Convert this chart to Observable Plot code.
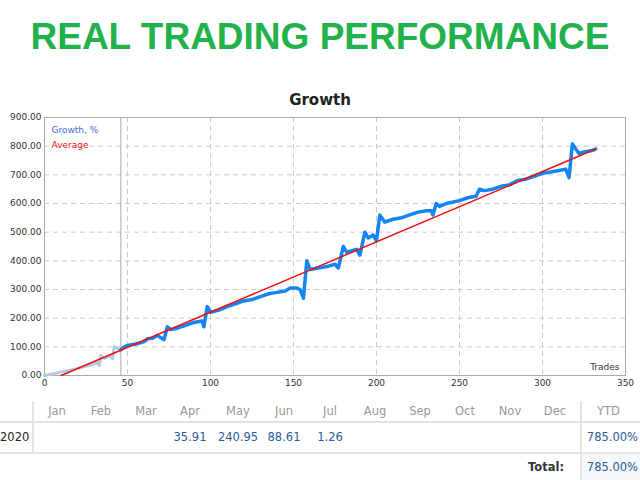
<!DOCTYPE html>
<html><head><meta charset="utf-8">
<script src="https://cdn.jsdelivr.net/npm/d3@7"></script>
<script src="https://cdn.jsdelivr.net/npm/@observablehq/plot@0.6"></script>
<style>
body{margin:0;width:640px;height:480px;position:relative;background:#fff;font-family:"DejaVu Sans",sans-serif;overflow:hidden}
.abs{position:absolute}
#title{top:16px;left:0;width:640px;text-align:center;color:#22b24c;font:bold 37px "Liberation Sans",Arial,sans-serif}
#sub{top:91px;left:0;width:640px;text-align:center;font:bold 15px "DejaVu Sans";color:#222}
#chart{top:110px;left:0}
.c{font-size:11.5px;text-align:center;width:44px}
.h{color:#999}
.v{color:#2a5d9a}
.hl{height:2px;background:#e3e3e3;left:0;width:640px}
.vl{width:2px;background:#e3e3e3}
</style></head><body>
<div id="title" class="abs">REAL TRADING PERFORMANCE</div>
<div id="sub" class="abs">Growth</div>
<div id="chart" class="abs"></div>
<div id="table"></div>
<script>
const early = [[0,0],[5,5],[10,12],[15,18],[20,25],[25,32],[30,40],[32,45],[33,35],[34,70],[36,60],[38,65],[40,68],[41,58],[42,100],[44,95],[46,90]];
const growth = [[46,90],[48,100],[50,105],[55,110],[60,118],[62,128],[65,130],[68,140],[72,125],[74,170],[76,160],[80,165],[85,175],[90,185],[95,190],[96,170],[98,240],[100,220],[105,228],[110,240],[115,250],[120,260],[125,265],[130,275],[135,285],[140,290],[145,295],[148,305],[152,305],[154,300],[156,270],[158,400],[160,370],[165,375],[170,380],[175,388],[177,375],[180,450],[182,430],[188,440],[190,420],[193,500],[195,480],[198,490],[200,470],[202,560],[205,535],[210,545],[215,550],[220,560],[225,570],[230,575],[233,575],[234,560],[236,600],[238,590],[242,600],[250,610],[255,620],[260,625],[262,650],[265,645],[270,650],[275,660],[280,665],[285,680],[290,685],[295,695],[300,705],[305,710],[310,715],[314,720],[316,690],[318,808],[320,790],[322,775],[325,780],[330,785],[332,790]];
const average = [[10,0],[332,790]];
const xTicks = [0,50,100,150,200,250,300,350];
const yTicks = [0,100,200,300,400,500,600,700,800,900];
const months = ["Jan","Feb","Mar","Apr","May","Jun","Jul","Aug","Sep","Oct","Nov","Dec"];
const monthValues = ["","","","35.91","240.95","88.61","1.26","","","","",""];
const ytd = "785.00%";
const total = "785.00%";
const year = "2020";

const plot = Plot.plot({
  width:640,height:285,
  marginTop:7,marginBottom:20,marginLeft:44,marginRight:15,
  style:{fontFamily:"DejaVu Sans",fontSize:"9px",color:"#333"},
  x:{domain:[0,350],ticks:xTicks,tickSize:0,tickPadding:4,label:null},
  y:{domain:[0,900],ticks:yTicks,tickSize:0,tickPadding:4,label:null,tickFormat:d=>d.toFixed(2)},
  marks:[
    Plot.gridX(xTicks.slice(1,-1),{stroke:"#ccc",strokeOpacity:1,strokeDasharray:"5,4"}),
    Plot.gridY(yTicks.slice(1,-1),{stroke:"#ccc",strokeOpacity:1,strokeDasharray:"5,4"}),
    Plot.ruleX([46],{stroke:"#aaa"}),
    Plot.frame({stroke:"#aaa"}),
    Plot.line(early,{x:d=>d[0],y:d=>d[1],stroke:"#b4cbe4",strokeWidth:3}),
    Plot.line(growth,{x:d=>d[0],y:d=>d[1],stroke:"#1485f5",strokeWidth:3.5}),
    Plot.line(average,{x:d=>d[0],y:d=>d[1],stroke:"#ee1111",strokeWidth:1.5}),
    Plot.text(["Growth, %"],{frameAnchor:"top-left",dx:7,dy:9,fill:"#3a6fd8",fontSize:9,textAnchor:"start"}),
    Plot.text(["Average"],{frameAnchor:"top-left",dx:7,dy:24,fill:"#ee1111",fontSize:9,textAnchor:"start"}),
    Plot.text(["Trades"],{frameAnchor:"bottom-right",dx:-6,dy:-6,fill:"#333",fontSize:9,textAnchor:"end"}),
    Plot.axisX(xTicks,{tickSize:0,tickPadding:4}),
    Plot.axisY(yTicks,{tickSize:0,tickPadding:3,tickFormat:d=>d.toFixed(2)})
  ]
});
document.getElementById("chart").appendChild(plot);

const t = document.getElementById("table");
const colX = [57,101,146,190,238,284,330,375,420,465,510,555];
let html = '<div class="abs hl" style="top:421px"></div><div class="abs hl" style="top:452px"></div>';
html += '<div class="abs vl" style="left:32px;top:401px;height:51px"></div>';
html += '<div class="abs vl" style="left:580px;top:401px;height:79px"></div>';
html += '<div class="abs" style="left:582px;top:454px;width:58px;height:26px;background:#f5f7fb"></div>';
months.forEach((m,i)=>{
  html += `<div class="abs c h" style="left:${colX[i]-22}px;top:404px">${m}</div>`;
  if(monthValues[i]) html += `<div class="abs c v" style="left:${colX[i]-22}px;top:430px">${monthValues[i]}</div>`;
});
html += `<div class="abs h" style="left:597px;top:404px;font-size:11.5px">YTD</div>`;
html += `<div class="abs" style="left:0;top:430px;font-size:11.5px;color:#222">${year}</div>`;
html += `<div class="abs v" style="right:2px;top:430px;font-size:11.5px">${ytd}</div>`;
html += `<div class="abs" style="left:528px;top:460px;font-size:11.5px;font-weight:bold;color:#333">Total:</div>`;
html += `<div class="abs v" style="right:2px;top:460px;font-size:11.5px">${total}</div>`;
t.innerHTML = html;
</script>
</body></html>
